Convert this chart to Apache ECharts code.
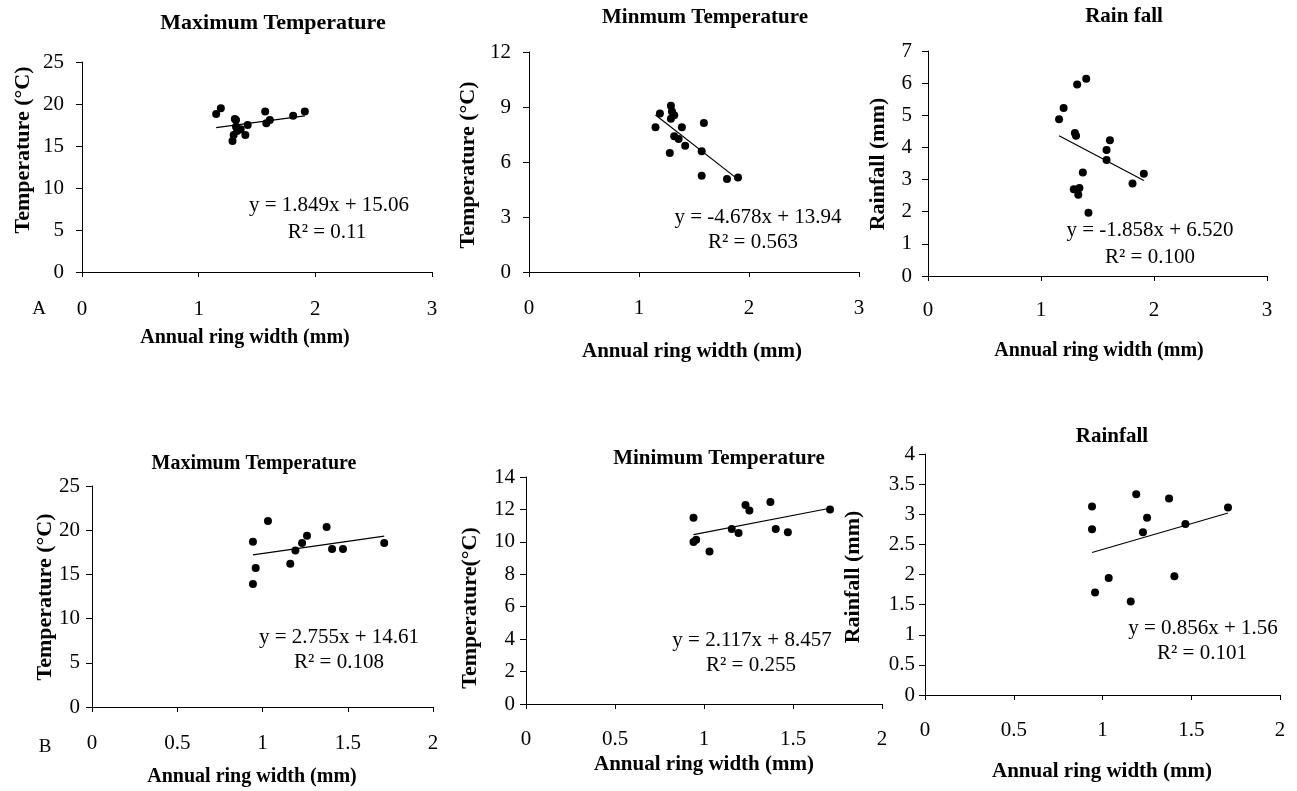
<!DOCTYPE html>
<html>
<head>
<meta charset="utf-8">
<script src="https://cdn.jsdelivr.net/npm/echarts@6/dist/echarts.min.js"></script>
<style>
html,body{margin:0;padding:0;background:#fff;}
#chart{width:1297px;height:791px;}
</style>
</head>
<body>
<div id="chart"></div>
<script>
// ---- Data ----
// Row A
const a1X = [1.15,1.19,1.29,1.30,1.31,1.32,1.32,1.33,1.36,1.40,1.42,1.57,1.58,1.61,1.81,1.91];
const a1Y = [18.8,19.5,15.6,16.3,18.2,18.1,17.3,16.8,17.0,16.3,17.5,19.1,17.7,18.1,18.6,19.1];
const a2X = [1.15,1.19,1.28,1.29,1.29,1.30,1.32,1.32,1.36,1.39,1.42,1.57,1.57,1.59,1.80,1.90];
const a2Y = [7.89,8.64,6.49,9.07,8.36,8.76,8.55,7.40,7.25,7.89,6.89,6.58,5.25,8.13,5.07,5.16];
const a3X = [1.16,1.20,1.29,1.30,1.31,1.32,1.33,1.34,1.37,1.40,1.42,1.58,1.58,1.61,1.81,1.91];
const a3Y = [4.88,5.23,2.70,4.45,4.36,5.96,2.53,2.74,3.22,6.14,1.97,3.92,3.61,4.22,2.88,3.18];
// Row B
const b1X = [0.944,0.960,0.944,1.032,1.163,1.193,1.232,1.261,1.376,1.408,1.472,1.714];
const b1Y = [18.69,15.71,13.90,21.03,16.20,17.71,18.54,19.37,20.35,17.86,17.86,18.54];
const b2X = [0.941,0.941,0.956,1.031,1.156,1.194,1.233,1.255,1.373,1.403,1.471,1.708];
const b2Y = [11.49,9.99,10.13,9.41,10.79,10.54,12.27,11.94,12.46,10.79,10.60,12.00];
const b3X = [0.941,0.941,0.958,1.035,1.159,1.190,1.228,1.251,1.375,1.405,1.467,1.707];
const b3Y = [3.13,2.75,1.70,1.94,1.55,3.33,2.70,2.94,3.26,1.97,2.84,3.11];

// regression coefficients [slope, intercept] as printed
const slopes = [1.849, -4.678, -1.858, 2.755, 2.117, 0.856];
const intercepts = [15.06, 13.94, 6.520, 14.61, 8.457, 1.56];

const titles = ['Maximum Temperature','Minmum Temperature','Rain fall','Maximum Temperature','Minimum Temperature','Rainfall'];
const yNames = ['Temperature (°C)','Temperature (°C)','Rainfall (mm)','Temperature (°C)','Temperature(°C)','Rainfall (mm)'];
const xName = 'Annual ring width (mm)';
const eqLines = ['y = 1.849x + 15.06','y = -4.678x + 13.94','y = -1.858x + 6.520','y = 2.755x + 14.61','y = 2.117x + 8.457','y = 0.856x + 1.56'];
const r2Lines = ['R² = 0.11','R² = 0.563','R² = 0.100','R² = 0.108','R² = 0.255','R² = 0.101'];
const rowLabels = ['A','B'];

// axis ranges
const xMax = [3,3,3,2,2,2];
const xInt = [1,1,1,0.5,0.5,0.5];
const yMax = [25,12,7,25,14,4];
const yInt = [5,3,1,5,2,0.5];

// ---- Layout ----
const FF = '"Liberation Serif","Times New Roman",Times,serif';
const grids = [
  {left:82, top:62, width:350, height:210},
  {left:529, top:52, width:330, height:220},
  {left:928, top:51, width:339, height:225},
  {left:92, top:486, width:341, height:221},
  {left:526, top:477, width:356, height:227},
  {left:925, top:454, width:355, height:241}
];
const yLabelMargin = [18,18,16,12,11,10];
const xLabelMargin = [27,26,24,26,25,25];
const titlePos = [[273,23],[705,18],[1124,17],[254,464],[719,459],[1112,437]];
const titleSize = [22,21,21,20,21,21];
const xNamePos = [[245,338],[692,352],[1099,351],[252,777],[704,765],[1102,772]];
const xNameSize = [20,21,20,20,21,21];
const yNamePos = [[23,150],[468,165],[878,164],[45,597],[470,608],[853,577]];
const eqPos = [[329,205],[758,217],[1150,230],[339,637],[752,640],[1203,628]];
const r2Pos = [[327,232],[753,242],[1150,257],[339,662],[751,665],[1202,653]];
const rowLabelPos = [[39,309],[45,747]];

const xs = [a1X,a2X,a3X,b1X,b2X,b3X];
const ys = [a1Y,a2Y,a3Y,b1Y,b2Y,b3Y];

const option = {
  backgroundColor:'#fff',
  animation:false,
  grid: grids.map(g => Object.assign({containLabel:false}, g)),
  xAxis: grids.map((g,i) => ({
    type:'value', gridIndex:i, min:0, max:xMax[i], interval:xInt[i],
    axisLine:{show:true, onZero:false, lineStyle:{color:'#000', width:1}},
    axisTick:{show:true, inside:false, length:5, lineStyle:{color:'#000'}},
    axisLabel:{color:'#000', fontFamily:FF, fontSize:21, margin:xLabelMargin[i], showMaxLabel:true, showMinLabel:true},
    splitLine:{show:false}
  })),
  yAxis: grids.map((g,i) => ({
    type:'value', gridIndex:i, min:0, max:yMax[i], interval:yInt[i],
    axisLine:{show:true, onZero:false, lineStyle:{color:'#000', width:1}},
    axisTick:{show:true, inside:false, length:6, lineStyle:{color:'#000'}},
    axisLabel:{color:'#000', fontFamily:FF, fontSize:21, margin:yLabelMargin[i], showMaxLabel:true, showMinLabel:true},
    splitLine:{show:false}
  })),
  series: [],
  graphic: []
};

xs.forEach((xArr,i) => {
  const pts = xArr.map((x,k) => [x, ys[i][k]]);
  option.series.push({
    type:'scatter', xAxisIndex:i, yAxisIndex:i, data:pts,
    symbol:'circle', symbolSize:8, itemStyle:{color:'#000', opacity:1}, z:3
  });
  const lo = Math.min.apply(null, xArr), hi = Math.max.apply(null, xArr);
  option.series.push({
    type:'line', xAxisIndex:i, yAxisIndex:i,
    data:[[lo, slopes[i]*lo+intercepts[i]],[hi, slopes[i]*hi+intercepts[i]]],
    symbol:'none', lineStyle:{color:'#000', width:1.2}, silent:true, z:2
  });
  option.graphic.push({type:'text', x:titlePos[i][0], y:titlePos[i][1],
    style:{text:titles[i], font:'bold '+titleSize[i]+'px '+FF, fill:'#000', align:'center', verticalAlign:'middle'}});
  option.graphic.push({type:'text', x:xNamePos[i][0], y:xNamePos[i][1],
    style:{text:xName, font:'bold '+xNameSize[i]+'px '+FF, fill:'#000', align:'center', verticalAlign:'middle'}});
  option.graphic.push({type:'text', x:yNamePos[i][0], y:yNamePos[i][1], rotation:Math.PI/2,
    style:{text:yNames[i], font:'bold 22px '+FF, fill:'#000', align:'center', verticalAlign:'middle'}});
  option.graphic.push({type:'text', x:eqPos[i][0], y:eqPos[i][1],
    style:{text:eqLines[i], font:'21px '+FF, fill:'#000', align:'center', verticalAlign:'middle'}});
  option.graphic.push({type:'text', x:r2Pos[i][0], y:r2Pos[i][1],
    style:{text:r2Lines[i], font:'21px '+FF, fill:'#000', align:'center', verticalAlign:'middle'}});
});
rowLabels.forEach((t,i) => {
  option.graphic.push({type:'text', x:rowLabelPos[i][0], y:rowLabelPos[i][1],
    style:{text:t, font:'19px '+FF, fill:'#000', align:'center', verticalAlign:'middle'}});
});

const chart = echarts.init(document.getElementById('chart'), null, {renderer:'canvas'});
chart.setOption(option);
</script>
</body>
</html>
